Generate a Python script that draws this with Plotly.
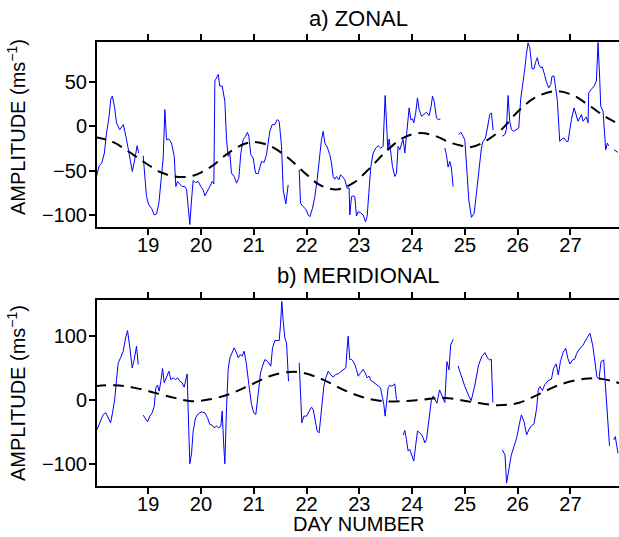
import plotly.graph_objects as go

# ---------------- data ----------------
N = None
zonal_day = [18.02, 18.07, 18.12, 18.17, 18.21, 18.26, 18.29, 18.32, 18.36, 18.40, 18.46, 18.53,
             18.59, 18.64, 18.70, 18.75, 18.79, 18.82, 18.86,
             18.905, 18.937, 18.968, 19.013, 19.063, 19.114, 19.158, 19.202, 19.24, 19.284, 19.316,
             19.347, 19.392, 19.442, 19.493, 19.524, 19.556, 19.60, 19.644, 19.695, 19.726, 19.758,
             19.789, 19.821, 19.852, 19.897, 19.947, 19.998, 20.042, 20.073, 20.124, 20.168, 20.212,
             20.244, 20.263, 20.294, 20.326, 20.357, 20.402, 20.452, 20.484, 20.515, 20.547, 20.578,
             20.629, 20.673, 20.717, 20.755, 20.799, 20.844, 20.881, 20.907, 20.945, 20.989, 21.033,
             21.083, 21.115, 21.147, 21.197, 21.241, 21.273, 21.304, 21.349, 21.40, 21.444, 21.482,
             21.526, 21.558, 21.608, 21.652, 21.75,
             21.861, 21.886, 21.936, 21.987, 22.031, 22.063, 22.113, 22.157, 22.201, 22.252, 22.283,
             22.315, 22.347, 22.391, 22.441, 22.473, 22.504, 22.536, 22.568, 22.612, 22.643, 22.681,
             22.725, 22.77, 22.807, 22.82, 22.852, 22.883, 22.915, 22.946, 22.978, 23.022, 23.073,
             23.117, 23.148, 23.18, 23.218, 23.262, 23.313, 23.357, 23.401, 23.451, 23.489, 23.515,
             23.54, 23.565, 23.59, 23.628, 23.672, 23.704, 23.735, 23.767, 23.805, 23.83, 23.862,
             23.893, 23.944, 23.975, 24.007, 24.032, 24.07, 24.102, 24.133, 24.178, 24.222, 24.272,
             24.323, 24.361, 24.386, 24.417, 24.462, 24.493, 24.537, 24.58,
             24.619, 24.65, 24.682, 24.714, 24.745, 24.777, 24.83,
             24.884, 24.922, 24.966, 24.998, 25.029, 25.074, 25.124, 25.175, 25.219, 25.263, 25.313,
             25.345, 25.389, 25.427, 25.471, 25.503, 25.534, 25.62,
             25.705, 25.755, 25.787, 25.818, 25.85, 25.882, 25.926, 25.976, 26.02, 26.058, 26.103,
             26.134, 26.166, 26.197, 26.229, 26.273, 26.311, 26.336, 26.374, 26.399, 26.437, 26.469,
             26.513, 26.545, 26.589, 26.627, 26.652, 26.69, 26.715, 26.753, 26.797, 26.841, 26.879,
             26.923, 26.955, 26.986, 27.018, 27.069, 27.113, 27.144, 27.176, 27.208, 27.239, 27.27,
             27.302, 27.334, 27.346, 27.397, 27.447, 27.491, 27.523, 27.555, 27.574, 27.618, 27.649,
             27.668, 27.70, 27.725, 27.78,
             27.826, 27.90]
zonal_amp = [-56.5, -44.4, -41.4, -30, -7.5, 11.4, 30.2, 34, 22.7, 3.9, -3.7, 2,
             -15, -30, -50.8, -35.7, -21.8, -30, N,
             -33.1, -60.2, -79.1, -88.5, -92.3, -99.8, -98.7, -86.6, -60.2, -35.7, 18.9,
             -15, -14.2, -18.8, -33.8, -67.8, -62.1, -64.8, -67.8, -67.8, -70.8, -90.4,
             -110.5, -82.9, -61, -63.3, -62.1, -67.8, -71.6, -78.3, -73.4, -67.8, -62.1,
             -64.8, 51, 54.7, 58.5, 45.3, 45.3, 28.4, -15, -33.8, -30.1, -52.7,
             -56.5, -64, -58.4, -30.1, -15, -11.2, -6.7, -11.2, -32, -35.7, -52.7,
             -53.4, -47, -39.5, -40.6, -32, -18.8, -5.6, 2, 2, 7.6, 5.7,
             -22.5, -71.6, -87.4, -65.9, N,
             -48.9, -86.6, -90.4, -93.4, -99.8, -101.7, -92.3, -79.1, -60.2, -30, -15,
             -5.6, -18.8, -23.3, -32, -41.4, -56.5, -59.5, -56.5, -60.2, -54.6, -56.5,
             -60.2, -69.7, -69.7, -99.8, -79.1, -78.3, -79.1, -100.9, -96.1, -97.2, -99.8,
             -107.4, -101.7, -75.3, -45.2, -30, -24.4, -21.8, -24.4, -22.5, 34.8, 3.9,
             -26.3, -14.2, -26.3, -45.2, -56.5, -52.7, -22.5, -26.3, -18.8, -15, -30,
             -7.5, 20.8, 7.6, 8.4, 3.9, 15.9, 32.1, 18.9, 11.4, 13.3, 15.9,
             12.1, 22.7, 34, 28.4, 9.5, 7.6, 8.4, N,
             -24.4, -32, -45.9, -39.5, -47, -67.8, N,
             -9.3, -6.7, -11.2, -15, -41.4, -82.9, -102.5, -97.9, -75.3, -52.7, -24.4,
             -16.9, -13.1, -1.8, 13.3, 15.2, -4.4, N,
             -11.2, -9.3, -3.7, 34.8, 5.7, -3.7, -5.6, -3, -1.8, 31, 49.1,
             64.2, 81.1, 94, 88.7, 64.9, 64.9, 71.7, 77.4, 69.8, 66.1, 66.8,
             57.4, 49.8, 43.4, 47.2, 56.6, 56.6, 45.3, 28.4, -16.9, -14.2, -13.1,
             -16.9, -16.9, -1.8, 7.6, 20.8, 13.3, 5.7, 9.5, 13.3, 5.7, 7.6,
             10.6, 3.9, 37.8, 41.6, 45.3, 51, 94.5, 52.9, 22.7, 17, -5.6,
             -26.3, -18.8, -21.8, N,
             -26.3, -29.3]

zonal_fit_day = [17.99, 18.31, 18.62, 18.94, 19.25, 19.57, 19.88, 20.20, 20.52, 20.83, 21.02,
                 21.30, 21.62, 21.94, 22.25, 22.57, 22.88, 23.20, 23.51, 23.83, 24.15, 24.46,
                 24.71, 24.94, 25.12, 25.38, 25.69, 26.01, 26.32, 26.70, 27.02, 27.33, 27.65, 27.95]
zonal_fit = [-12.1, -17, -28, -41, -52, -57, -55, -45, -30, -19.6, -17.7,
             -21.8, -34, -51, -66, -71, -64, -47, -28, -13, -7.5, -11.3,
             -18, -21.8, -23.3, -17, -3.7, 17, 32, 39.6, 35.8, 24.5, 11.3, 1.5]

merid_day = [18.022, 18.085, 18.148, 18.198, 18.243, 18.287, 18.325, 18.369, 18.40, 18.432, 18.476,
             18.527, 18.571, 18.609, 18.653, 18.697, 18.735, 18.779, 18.811, 18.86,
             18.905, 18.95, 18.987, 19.032, 19.076, 19.114, 19.145, 19.177, 19.208, 19.24, 19.272,
             19.303, 19.347, 19.392, 19.429, 19.474, 19.518, 19.556, 19.60, 19.644, 19.682, 19.714,
             19.739, 19.758, 19.789, 19.821, 19.852, 19.897, 19.947, 20.01, 20.073, 20.124, 20.168,
             20.212, 20.25, 20.294, 20.338, 20.377, 20.402, 20.427, 20.452, 20.484, 20.515, 20.547,
             20.591, 20.629, 20.673, 20.705, 20.743, 20.78, 20.818, 20.862, 20.907, 20.957, 21.001,
             21.039, 21.083, 21.128, 21.166, 21.21, 21.254, 21.286, 21.323, 21.355, 21.40, 21.444,
             21.482, 21.507, 21.532, 21.558, 21.589, 21.621, 21.64, 21.659, 21.76,
             21.861, 21.886, 21.911, 21.949, 22.0, 22.05, 22.094, 22.126, 22.164, 22.201, 22.239,
             22.265, 22.296, 22.328, 22.366, 22.41, 22.454, 22.504, 22.549, 22.60, 22.643, 22.694,
             22.744, 22.77, 22.788, 22.82, 22.852, 22.883, 22.915, 22.946, 22.978, 23.022, 23.073,
             23.11, 23.148, 23.186, 23.218, 23.262, 23.313, 23.357, 23.401, 23.439, 23.464, 23.489,
             23.515, 23.546, 23.578, 23.609, 23.641, 23.672, 23.704, 23.77,
             23.83, 23.862, 23.893, 23.925, 23.956, 23.988, 24.032, 24.07, 24.102, 24.146, 24.178,
             24.209, 24.241, 24.272, 24.304, 24.335, 24.367, 24.40, 24.47, 24.52, 24.62, 24.66,
             24.70, 24.73, 24.78, 24.83,
             24.87, 24.94, 25.0, 25.08, 25.12, 25.19, 25.26, 25.32, 25.38, 25.43, 25.47,
             25.50, 25.53, 25.62,
             25.71, 25.76, 25.79, 25.84, 25.88, 25.93, 25.98, 26.03, 26.07, 26.12, 26.17,
             26.21, 26.26, 26.31, 26.36, 26.39, 26.42, 26.47, 26.51, 26.58, 26.64, 26.68,
             26.73, 26.77, 26.81, 26.86, 26.91, 26.95, 26.99, 27.04, 27.08, 27.12, 27.18,
             27.23, 27.27, 27.31, 27.37, 27.42, 27.46, 27.50, 27.54, 27.58, 27.63, 27.68,
             27.74, 27.78,
             27.82, 27.85, 27.88, 27.90]
merid_amp = [-47.6, -35.7, -22.7, -20.1, -26.8, -35.7, -20.1, 3.2, 31.7, 57.6, 65.4,
             75.7, 96.4, 107.8, 80.9, 49.8, 62.8, 83.5, 55, N,
             -23.7, -29, -34.1, -25.3, -20.1, -9.8, 18.7, 22.9, 13.6, 29.1, 48.8,
             26.5, 36.9, 44.6, 31.7, 34.3, 31.7, 34.3, 29.1, 26.5, 19.8, 34.3,
             40.5, -17.5, -99.4, -83.8, -48.6, -27.9, -21.7, -18.6, -20.1, -27.9, -38.2,
             -39.3, -43.4, -40.8, -43.4, -40.8, -17.5, -64.1, -99.4, -12.3, 47.2, 65.4,
             73.1, 80.9, 73.1, 65.4, 70.5, 68, 75.7, 55, 23.9, -7.2, -20.1,
             -22.7, 8.4, 42, 52.4, 62.8, 60.2, 57.6, 52.4, 80.9, 92.3, 92.3,
             92.3, 117.2, 153, 122.3, 96.4, 88.7, 55, 29.1, N,
             57.6, 8.4, -35.7, -25.3, -25.3, -17.5, -11.3, -14.9, -33.1, -48.6, -51.2,
             -27.9, -2, 21.3, 34.3, 44.6, 39.5, 35.3, 39.5, 40.5, 43.6, 47.2,
             49.8, 80.9, 99, 62.8, 62.8, 60.2, 55, 47.2, 36.9, 42, 47.2,
             42, 34.3, 36.9, 30.1, 28.1, 24.9, 22.9, 18.7, 3.2, -7.2, -25.3,
             -6.1, 18.7, 22.9, 21.3, 22.9, 24.9, 0.6, N,
             -54.8, -47.6, -61.6, -79.7, -77.1, -84.9, -95.2, -69.3, -48.6, -51.2, -53.8,
             -59, -66.7, -61.6, -40.8, -17.5, 0.6, 6.2, -5.2, 15.6, -4.1, 59.6,
             46.7, 85.5, 94.4, N,
             52.9, 35.3, 20.7, 5.1, -1.1, 23.3, 54.4, 67.3, 73.6, 64.8, 62.2,
             63.3, -4.1, N,
             -77.8, -85.5, -129.5, -103.7, -85.5, -72.6, -59.6, -38.9, -23.3, -33.7, -54.4,
             -46.7, -40.4, -37.3, -12.9, 15.6, 20.7, 14.5, 23.3, 30, 32.2, 49.3,
             56, 38.9, 59.6, 73.6, 80.4, 64.8, 56, 62.2, 63.3, 72.6, 80.4,
             84, 90.7, 95.9, 103.7, 85.5, 62.2, 36.2, 32.2, 59.6, 62.2, -5.2,
             -71.5, N,
             -62.2, -57.1, -72.6, -82.9]

merid_fit_day = [17.99, 18.37, 18.75, 19.13, 19.50, 19.82, 20.14, 20.52, 20.89, 21.30, 21.68,
                 21.94, 22.31, 22.69, 23.07, 23.45, 23.83, 24.21, 24.62, 25.12, 25.63, 26.01,
                 26.39, 26.77, 27.27, 27.59, 27.95]
merid_fit = [21.3, 22.8, 18.7, 10.9, 3.1, -2, 0.5, 8.3, 21.3, 36.8, 43.5,
             42, 31.6, 16, 4.2, -2, -2, 0.5, 3.1, -3.1, -8.3, -4.7,
             8.3, 22.8, 33, 32.7, 25.5]

zonal_ticks = [-100, -50, 0, 50]
merid_ticks = [-100, 0, 100]
day_ticks = [19, 20, 21, 22, 23, 24, 25, 26, 27]

# ---------------- figure ----------------
FONT = "Liberation Sans, Arial, Helvetica, sans-serif"
BLUE = "#0000ff"

fig = go.Figure()
fig.add_trace(go.Scatter(x=zonal_day, y=zonal_amp, mode="lines", line=dict(color=BLUE, width=1),
                         connectgaps=False, xaxis="x", yaxis="y", showlegend=False, hoverinfo="skip"))
fig.add_trace(go.Scatter(x=zonal_fit_day, y=zonal_fit, mode="lines", line_shape="spline",
                         line=dict(color="black", width=2, dash="11px,7px"),
                         xaxis="x", yaxis="y", showlegend=False, hoverinfo="skip"))
fig.add_trace(go.Scatter(x=merid_day, y=merid_amp, mode="lines", line=dict(color=BLUE, width=1),
                         connectgaps=False, xaxis="x2", yaxis="y2", showlegend=False, hoverinfo="skip"))
fig.add_trace(go.Scatter(x=merid_fit_day, y=merid_fit, mode="lines", line_shape="spline",
                         line=dict(color="black", width=2, dash="11px,7px"),
                         xaxis="x2", yaxis="y2", showlegend=False, hoverinfo="skip"))

xcommon = dict(range=[18.03, 27.92], tickvals=day_ticks, ticks="outside", ticklen=6,
               tickwidth=1.5, tickcolor="black", showline=True, linewidth=2, linecolor="black",
               mirror="ticks", showgrid=False, zeroline=False, ticklabelstandoff=-7,
               tickfont=dict(family=FONT, size=20, color="black"))
ycommon = dict(ticks="outside", ticklen=6, tickwidth=1.5, tickcolor="black", showline=True,
               linewidth=2, linecolor="black", mirror=False, showgrid=False, zeroline=False,
               ticklabelstandoff=-2,
               tickfont=dict(family=FONT, size=20, color="black"))

fig.update_layout(
    width=619, height=537,
    margin=dict(l=97, r=0, t=42, b=51),
    plot_bgcolor="white", paper_bgcolor="white",
    xaxis=dict(**xcommon, domain=[0, 1], anchor="y"),
    yaxis=dict(**ycommon, domain=[0.583, 1], range=[-113.5, 95], tickvals=zonal_ticks, anchor="x"),
    xaxis2=dict(**xcommon, domain=[0, 1], anchor="y2"),
    yaxis2=dict(**ycommon, domain=[0, 0.419], range=[-134, 155.5], tickvals=merid_ticks, anchor="x2"),
    font=dict(family=FONT, color="black"),
)

def px2paper_x(px):
    return (px - 97) / 522.0

def py2paper_y(py):
    return (486 - py) / 444.0

ann = [
    dict(text="a) ZONAL", x=px2paper_x(358), y=py2paper_y(18), size=22, angle=0),
    dict(text="b) MERIDIONAL", x=px2paper_x(358), y=py2paper_y(275), size=22, angle=0),
    dict(text="DAY NUMBER", x=px2paper_x(359), y=py2paper_y(524), size=20, angle=0),
    dict(text="AMPLITUDE (ms<sup>−1</sup>)", x=px2paper_x(16), y=py2paper_y(127), size=20, angle=-90),
    dict(text="AMPLITUDE (ms<sup>−1</sup>)", x=px2paper_x(16), y=py2paper_y(393), size=20, angle=-90),
]
for a in ann:
    fig.add_annotation(text=a["text"], x=a["x"], y=a["y"], xref="paper", yref="paper",
                       xanchor="center", yanchor="middle", showarrow=False, textangle=a["angle"],
                       font=dict(family=FONT, size=a["size"], color="black"))

fig.write_html("out.html")
